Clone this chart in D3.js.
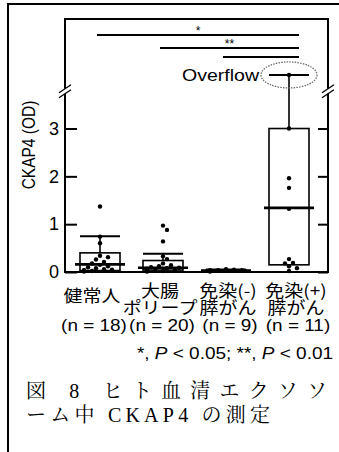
<!DOCTYPE html>
<html>
<head>
<meta charset="utf-8">
<script src="https://cdn.jsdelivr.net/npm/d3@7"></script>
<style>
body { margin: 0; background: #fff; }
svg text { font-family: "Liberation Sans", Arial, "Noto Sans CJK JP", sans-serif; fill: #000; }
</style>
</head>
<body>
<div id="chart"></div>
<script>
// data
var groups = ["健常人", "大腸ポリープ", "免染(-)膵がん", "免染(+)膵がん"];
var labelLine1 = ["健常人", "大腸", "免染(-)", "免染(+)"];
var labelLine2 = ["", "ポリープ", "膵がん", "膵がん"];
var nLabels = ["(n = 18)", "(n = 20)", "(n = 9)", "(n = 11)"];
var q1 = [0.03, 0.04, 0.01, 0.15];
var medians = [0.16, 0.09, 0.03, 1.34];
var q3 = [0.40, 0.24, 0.04, 3.0];
var whiskerHigh = [0.75, 0.38, 0.05, "overflow"];
var points = [
  [1.37, 0.74, 0.60, 0.34, 0.31, 0.26, 0.21, 0.18, 0.15, 0.12, 0.10, 0.08, 0.06, 0.05, 0.04, 0.03, 0.02, 0.01],
  [0.97, 0.88, 0.64, 0.33, 0.27, 0.18, 0.14, 0.12, 0.10, 0.09, 0.08, 0.07, 0.06, 0.05, 0.05, 0.04, 0.03, 0.02, 0.02, 0.01],
  [0.06, 0.05, 0.04, 0.04, 0.03, 0.03, 0.02, 0.02, 0.01],
  ["overflow", 3.0, 1.96, 1.76, 1.32, 0.27, 0.19, 0.18, 0.12, 0.08, 0.02]
];
var yTicks = [0, 1, 2, 3];
var comparisons = [[0, 3, "*"], [1, 3, "**"], [2, 3, ""]];
var breakAt = 3.78;      // axis break
var overflowAt = 4.12;   // where off-scale values are drawn
var pNote = "*, P < 0.05; **, P < 0.01";
var caption1 = "図 8 ヒト血清エクソソ";
var caption2 = "ーム中 CKAP4 の測定";

var width = 339, height = 452;
var plot = {left: 65, right: 328, top: 19, bottom: 272};
var stretch = 1.15;

var svg = d3.select("#chart").append("svg")
    .attr("width", width).attr("height", height);

// outer frame of the figure
svg.append("path")
    .attr("d", "M8," + height + "V4H" + width)
    .attr("fill", "none").attr("stroke", "#000").attr("stroke-width", 2);

var x = d3.scalePoint().domain(groups).range([100, 289]);
var xl = d3.scalePoint().domain(groups).range([92, 296]);
var y = d3.scaleLinear().domain([0, 5.29]).range([plot.bottom, plot.top]);

function yv(v) { return v === "overflow" ? y(overflowAt) : y(v); }

function stretched(sel, px, py) {
  return sel.attr("transform", "translate(" + px + "," + py + ") scale(" + stretch + ",1)");
}

// plot frame
svg.append("rect")
    .attr("x", plot.left).attr("y", plot.top)
    .attr("width", plot.right - plot.left).attr("height", plot.bottom - plot.top)
    .attr("fill", "none").attr("stroke", "#000").attr("stroke-width", 2);

// axes
var yAxis = svg.append("g")
    .attr("transform", "translate(" + plot.left + ",0)")
    .call(d3.axisLeft(y).tickValues(yTicks).tickFormat(d3.format("d"))
      .tickSizeInner(-12).tickSizeOuter(0).tickPadding(6));
yAxis.select(".domain").remove();
yAxis.selectAll("line").attr("stroke-width", 2);
yAxis.selectAll("text").attr("font-size", 18)
    .style("font-family", "'Liberation Sans', Arial, sans-serif");

var yAxisR = svg.append("g")
    .attr("transform", "translate(" + plot.right + ",0)")
    .call(d3.axisRight(y).tickValues(yTicks).tickSizeInner(-10).tickSizeOuter(0).tickFormat(""));
yAxisR.select(".domain").remove();
yAxisR.selectAll("line").attr("stroke-width", 2);

// axis break marks
[plot.left, plot.right].forEach(function(ax) {
  var by = y(breakAt);
  svg.append("rect").attr("x", ax - 2).attr("y", by - 2.5).attr("width", 4).attr("height", 5).attr("fill", "#fff");
  [-2.5, 2.5].forEach(function(o) {
    svg.append("line")
        .attr("x1", ax - 6).attr("y1", by + o + 4)
        .attr("x2", ax + 6).attr("y2", by + o - 4)
        .attr("stroke", "#000").attr("stroke-width", 1.3);
  });
});

// y label
svg.append("text")
    .attr("transform", "translate(35,145) scale(" + stretch + ",1) rotate(-90)")
    .attr("text-anchor", "middle")
    .attr("font-size", 15.5)
    .text("CKAP4 (OD)");

var boxW = 40, medW = 50;

var g = svg.append("g").selectAll("g").data(groups).enter().append("g");

// whiskers
g.append("line")
    .attr("x1", function(d) { return x(d); }).attr("x2", function(d) { return x(d); })
    .attr("y1", function(d, i) { return y(q3[i]); })
    .attr("y2", function(d, i) { return yv(whiskerHigh[i]); })
    .attr("stroke", "#000").attr("stroke-width", 1.6);
g.append("line")
    .attr("x1", function(d) { return x(d) - boxW / 2; }).attr("x2", function(d) { return x(d) + boxW / 2; })
    .attr("y1", function(d, i) { return yv(whiskerHigh[i]); })
    .attr("y2", function(d, i) { return yv(whiskerHigh[i]); })
    .attr("stroke", "#000").attr("stroke-width", 2);

// boxes
g.append("rect")
    .attr("x", function(d) { return x(d) - boxW / 2; })
    .attr("width", boxW)
    .attr("y", function(d, i) { return y(q3[i]); })
    .attr("height", function(d, i) { return y(q1[i]) - y(q3[i]); })
    .attr("fill", "none").attr("stroke", "#000").attr("stroke-width", 1.6);

// medians
g.append("line")
    .attr("x1", function(d) { return x(d) - medW / 2; }).attr("x2", function(d) { return x(d) + medW / 2; })
    .attr("y1", function(d, i) { return y(medians[i]); })
    .attr("y2", function(d, i) { return y(medians[i]); })
    .attr("stroke", "#000").attr("stroke-width", 2.6);

// points, simple beeswarm so dots do not sit on each other
var r = 2.2;
groups.forEach(function(grp, i) {
  var placed = [];
  var order = points[i].map(function(v) { return {v: v, py: yv(v)}; })
      .sort(function(a, b) { return a.py - b.py; });
  order.forEach(function(p) {
    var steps = [0, 4, -4, 8, -8, 12, -12, 16, -16];
    for (var k = 0; k < steps.length; k++) {
      var px = x(grp) + steps[k];
      var ok = placed.every(function(q) {
        return Math.hypot(q.px - px, q.py - p.py) >= 2 * r + 0.3;
      });
      if (ok || k == steps.length - 1) { p.px = px; break; }
    }
    placed.push(p);
  });
  svg.append("g").selectAll("circle").data(placed).enter().append("circle")
      .attr("cx", function(d) { return d.px; })
      .attr("cy", function(d) { return d.py; })
      .attr("r", r).attr("fill", "#000");
});

// overflow marker
var ox = x(groups[3]), oy = y(overflowAt);
svg.append("ellipse")
    .attr("cx", ox).attr("cy", oy).attr("rx", 28).attr("ry", 13)
    .attr("fill", "none").attr("stroke", "#666").attr("stroke-width", 1.2)
    .attr("stroke-dasharray", "1.5,1.2");
stretched(svg.append("text"), ox - 30, oy + 6)
    .attr("text-anchor", "end").attr("font-size", 17).text("Overflow");

// significance lines
var sigY = [35, 48, 57];
comparisons.forEach(function(c, k) {
  var x1 = x(groups[c[0]]) - 3, x2 = x(groups[c[1]]) + 10;
  svg.append("line").attr("x1", x1).attr("x2", x2).attr("y1", sigY[k]).attr("y2", sigY[k])
      .attr("stroke", "#000").attr("stroke-width", 2);
  svg.append("text").attr("x", (x1 + x2) / 2).attr("y", sigY[k])
      .attr("text-anchor", "middle").attr("font-size", 12).text(c[2]);
});

// category labels
var cjk = "'Noto Sans CJK JP', 'Liberation Sans', sans-serif";
groups.forEach(function(grp, i) {
  var single = labelLine2[i] === "";
  stretched(svg.append("text"), xl(grp), single ? 302 : 297)
      .attr("text-anchor", "middle").attr("font-size", 16.5)
      .style("font-family", cjk)
      .text(labelLine1[i]);
  if (!single) {
    stretched(svg.append("text"), xl(grp), 314)
        .attr("text-anchor", "middle").attr("font-size", 16.5)
        .style("font-family", cjk)
        .text(labelLine2[i]);
  }
  stretched(svg.append("text"), xl(grp) + 2, 331)
      .attr("text-anchor", "middle").attr("font-size", 16.5)
      .text(nLabels[i]);
});

// p-value note, P in italics
var pn = stretched(svg.append("text"), 333, 359)
    .attr("text-anchor", "end").attr("font-size", 16.5);
pNote.split(/(P)/).forEach(function(s) {
  pn.append("tspan").attr("font-style", s === "P" ? "italic" : null).text(s);
});

// caption
var serif = "'Liberation Serif', 'Noto Serif CJK JP', 'Noto Sans CJK JP', serif";
svg.append("text").attr("x", 26).attr("y", 398)
    .attr("font-size", 20)
    .attr("textLength", 301).attr("lengthAdjust", "spacing")
    .style("font-family", serif)
    .text(caption1);
svg.append("text").attr("x", 26).attr("y", 422)
    .attr("font-size", 20)
    .attr("textLength", 244).attr("lengthAdjust", "spacing")
    .style("font-family", serif)
    .text(caption2);
</script>
</body>
</html>
